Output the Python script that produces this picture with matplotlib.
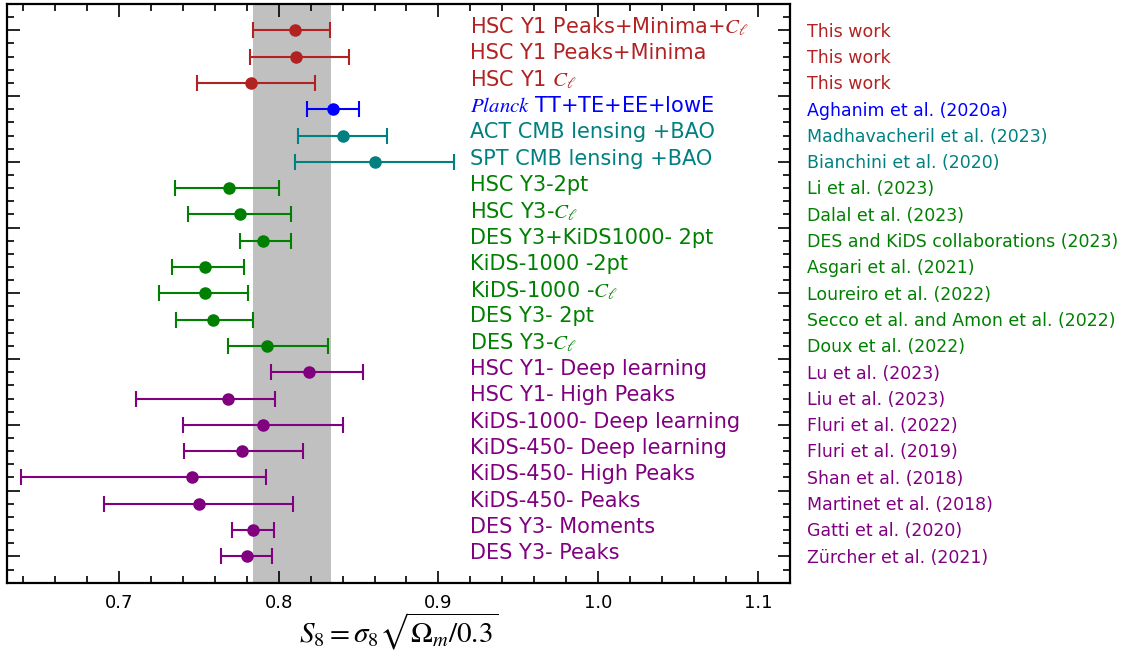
import matplotlib
matplotlib.use("Agg")
import matplotlib.pyplot as plt
from matplotlib.ticker import MultipleLocator

plt.rcParams['mathtext.fontset'] = 'stix'

# survey / analysis names (top to bottom)
labels = [
    r"HSC Y1 Peaks+Minima+$C_\ell$",
    "HSC Y1 Peaks+Minima",
    r"HSC Y1 $C_\ell$",
    r"$Planck$ TT+TE+EE+lowE",
    "ACT CMB lensing +BAO",
    "SPT CMB lensing +BAO",
    "HSC Y3-2pt",
    r"HSC Y3-$C_\ell$",
    "DES Y3+KiDS1000- 2pt",
    "KiDS-1000 -2pt",
    r"KiDS-1000 -$C_\ell$",
    "DES Y3- 2pt",
    r"DES Y3-$C_\ell$",
    "HSC Y1- Deep learning",
    "HSC Y1- High Peaks",
    "KiDS-1000- Deep learning",
    "KiDS-450- Deep learning",
    "KiDS-450- High Peaks",
    "KiDS-450- Peaks",
    "DES Y3- Moments",
    "DES Y3- Peaks",
]
refs = [
    "This work", "This work", "This work",
    "Aghanim et al. (2020a)",
    "Madhavacheril et al. (2023)",
    "Bianchini et al. (2020)",
    "Li et al. (2023)",
    "Dalal et al. (2023)",
    "DES and KiDS collaborations (2023)",
    "Asgari et al. (2021)",
    "Loureiro et al. (2022)",
    "Secco et al. and Amon et al. (2022)",
    "Doux et al. (2022)",
    "Lu et al. (2023)",
    "Liu et al. (2023)",
    "Fluri et al. (2022)",
    "Fluri et al. (2019)",
    "Shan et al. (2018)",
    "Martinet et al. (2018)",
    "Gatti et al. (2020)",
    "Zürcher et al. (2021)",
]
s8 = [0.810, 0.811, 0.783, 0.834, 0.840, 0.860, 0.769, 0.776, 0.790, 0.754,
      0.754, 0.759, 0.793, 0.819, 0.768, 0.790, 0.777, 0.746, 0.750, 0.784, 0.780]
err_lo = [0.026, 0.029, 0.034, 0.016, 0.028, 0.050, 0.034, 0.033, 0.014, 0.021,
          0.029, 0.023, 0.025, 0.024, 0.057, 0.050, 0.036, 0.107, 0.059, 0.013, 0.016]
err_hi = [0.022, 0.033, 0.040, 0.016, 0.028, 0.050, 0.031, 0.032, 0.018, 0.024,
          0.027, 0.025, 0.038, 0.034, 0.030, 0.050, 0.038, 0.046, 0.059, 0.013, 0.016]
groups = ["work"] * 3 + ["planck"] + ["cmblens"] * 2 + ["wl2pt"] * 7 + ["beyond"] * 8
band = (0.784, 0.833)

colors = {"work": "#b22222", "planck": "blue", "cmblens": "teal",
          "wl2pt": "green", "beyond": "purple"}

fig = plt.figure(figsize=(11.31, 6.55), dpi=100)
ax = fig.add_axes([0.0062, 0.1104, 0.6923, 0.8835])

ax.axvspan(band[0], band[1], color="silver", zorder=0, lw=0)

for i in range(len(labels)):
    c = colors[groups[i]]
    ax.errorbar(s8[i], i, xerr=[[err_lo[i]], [err_hi[i]]], fmt="o", color=c,
                ms=8, capsize=6, elinewidth=1.5, capthick=1.5)
    ax.text(0.920, i - 0.12, labels[i], color=c, fontsize=15, va="center", ha="left")
    ax.text(1.1305, i + 0.05, refs[i], color=c, fontsize=12.5, va="center", ha="left",
            clip_on=False)

ax.set_xlim(0.63, 1.12)
ax.set_ylim(21, -1)
ax.xaxis.set_major_locator(MultipleLocator(0.1))
ax.xaxis.set_minor_locator(MultipleLocator(0.02))
ax.yaxis.set_major_locator(MultipleLocator(2.5))
ax.yaxis.set_minor_locator(MultipleLocator(0.5))
ax.tick_params(which="both", direction="in", top=True, right=True, labelleft=False,
               labelsize=13, width=1.2)
ax.tick_params(which="major", length=9)
ax.tick_params(which="minor", length=5)
ax.xaxis.set_tick_params(pad=8)
for sp in ax.spines.values():
    sp.set_linewidth(1.6)

ax.set_xlabel(r"$S_8=\sigma_8\sqrt{\Omega_m/0.3}$", fontsize=21, labelpad=-1)

fig.savefig("out.png", dpi=100)
